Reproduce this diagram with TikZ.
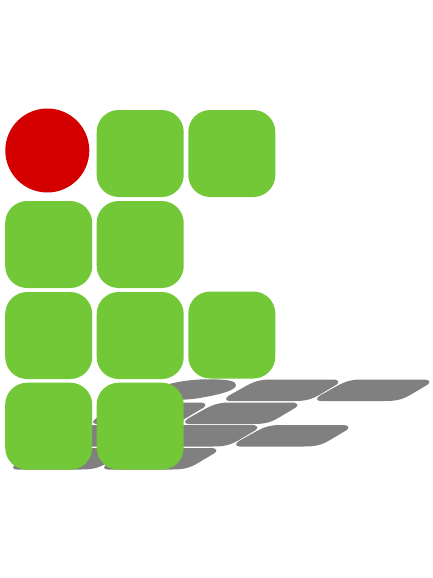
\documentclass[tikz,border=0pt]{standalone}
\definecolor{ifgreen}{HTML}{72C837}
\definecolor{ifred}{HTML}{D40000}
\definecolor{ifgray}{HTML}{808080}
\tikzset{
  tile/.style={fill=ifgreen,draw=none,rounded corners=22pt},
  shade tile/.style={fill=ifgray,draw=none},
  ball/.style={fill=ifred,draw=none}
}
\newcommand{\shadetile}[2]{%
  \fill[shade tile] ({#1+4},{#2+21.5}) .. controls ({#1-1},{#2+21.5}) and ({#1-1},{#2+18.5}) .. ({#1+3},{#2+16})
    -- ({#1+20},{#2+6.5}) .. controls ({#1+30},{#2+1}) and ({#1+36},{#2}) .. ({#1+46},{#2})
    -- ({#1+106},{#2}) .. controls ({#1+113.5},{#2}) and ({#1+114},{#2+3}) .. ({#1+110},{#2+5.5})
    -- ({#1+94},{#2+15}) .. controls ({#1+85},{#2+20.5}) and ({#1+78},{#2+21.5}) .. ({#1+68},{#2+21.5}) -- cycle;}
\newcommand{\greentile}[2]{%
  \fill[tile] (#1,#2) rectangle ++(87,87);}
\begin{document}
\begin{tikzpicture}[x=1pt,y=-1pt]
\useasboundingbox[fill=white] (0,0) rectangle (432,578);
% shadow
\shadetile{317}{379.5}
\shadetile{226}{379.5}
\fill[shade tile] (150,400) -- (165,385) .. controls (180,381) and (195,379) .. (212,379.3)
   .. controls (228,379.5) and (236,381) .. (236,385)
   .. controls (236,390) and (222,394) .. (205,397) .. controls (195,399) and (185,400) .. (170,400) -- cycle;
\shadetile{185}{402.5}
\shadetile{93}{402.5}
\shadetile{236}{425}
\shadetile{145}{425}
\shadetile{54}{425}
\shadetile{104}{448}
\shadetile{13}{448}
% tiles
\fill[ball] (47.3,150.5) circle (42);
\greentile{96.7}{110}
\greentile{188.3}{110}
\greentile{5.2}{201}
\greentile{96.7}{201}
\greentile{5.2}{292}
\greentile{96.7}{292}
\greentile{188.3}{291.5}
\greentile{5.2}{382.7}
\greentile{96.7}{382.7}
\end{tikzpicture}
\end{document}
